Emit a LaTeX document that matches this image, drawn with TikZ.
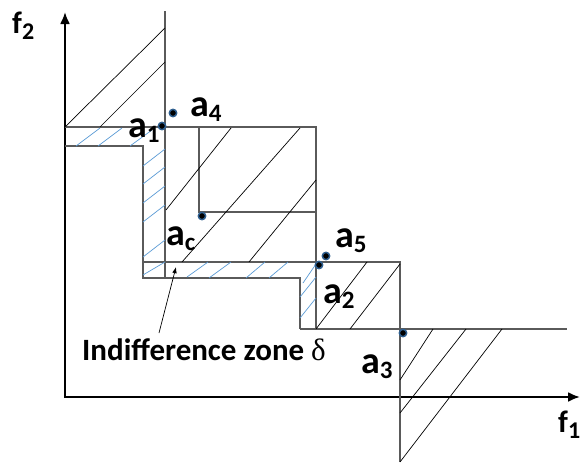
\documentclass[tikz,border=0pt]{standalone}
\usepackage{fontspec}
\setmainfont{Carlito}
\newfontfamily\deltafont{Liberation Serif}
\usetikzlibrary{arrows.meta}
\definecolor{mez}{HTML}{5A5A5A}
\definecolor{zona}{HTML}{5B9BD5}
\definecolor{krouzek}{HTML}{2F5F8F}
\newcommand{\varianta}[1]{a\raisebox{-5pt}{\fontsize{25}{25}\selectfont #1}}
\newcommand{\kriterium}[1]{f\raisebox{-6pt}{\fontsize{24}{24}\selectfont #1}}

\begin{document}
\begin{tikzpicture}[x=1pt, y=-1pt, >=Latex,
  osa/.style={line width=2.2pt, {Latex[length=12pt,width=10pt]}-{Latex[length=12pt,width=10pt]}},
  hranice/.style={mez, line width=1.1pt},
  srafa/.style={black, line width=0.7pt},
  srafazona/.style={zona, line width=0.7pt},
  bod/.style={circle, fill=black, draw=krouzek, line width=1.5pt, inner sep=2.6pt},
  popis/.style={anchor=base west, inner sep=0pt, font=\fontsize{38}{38}\selectfont\bfseries},
  osapopis/.style={anchor=base west, inner sep=0pt, font=\fontsize{31}{31}\selectfont\bfseries}]
  \useasboundingbox (0,0) rectangle (582,463);

  % Osy
  \draw[osa] (65,12) -- (65,397) -- (580,397);
  \node[osapopis] (f2) at (12,33) {\kriterium{2}};
  \node[osapopis] (f1) at (558,432) {\kriterium{1}};

  % Hranice dominance
  \draw[hranice] (65,127) -- (316,127) -- (316,329);
  \draw[hranice] (165,11) -- (165,278);
  \draw[hranice] (143,262) -- (400,262) -- (400,462);
  \draw[hranice] (300,329) -- (567,329);
  \draw[hranice] (199,127) -- (199,212) -- (316,212);

  % Mez indiference
  \draw[hranice] (65,146) -- (143,146) -- (143,278) -- (300,278) -- (300,329);

  % Srafovani
  \foreach \xa/\ya/\xb/\yb in {65/127/165/28, 100/127/165/62, 166/210/231/128,
      182/262/300/128, 249/262/316/180, 316/329/367/262, 350/329/400/264,
      400/380/433/329, 400/413/466/329, 400/462/502/329}
    \draw[srafa] (\xa,\ya) -- (\xb,\yb);
  \foreach \xa/\ya/\xb/\yb in {76/146/100/128, 98/146/122/128, 130/146/152/130,
      143/166/165/149, 143/184/165/167, 143/203/165/186, 143/222/165/205,
      143/257/165/240, 143/275/165/262,
      187/277/208/262, 209/278/231/262, 246/278/265/262, 269/278/288/262,
      303/283/316/264, 300/297/316/277, 300/318/316/298}
    \draw[srafazona] (\xa,\ya) -- (\xb,\yb);

  % Varianty
  \node[bod] (b1) at (162,126) {};
  \node[bod] (b4) at (173,113) {};
  \node[bod] (bc) at (202,216) {};
  \node[bod] (b2) at (319,265) {};
  \node[bod] (b5) at (326,256) {};
  \node[bod] (b3) at (403,333) {};
  \node[popis] (a1) at (128,137) {\varianta{1}};
  \node[popis] (a4) at (190,116) {\varianta{4}};
  \node[popis] (ac) at (166,245) {\varianta{c}};
  \node[popis] (a5) at (335,247) {\varianta{5}};
  \node[popis] (a2) at (323,303) {\varianta{2}};
  \node[popis] (a3) at (361,373) {\varianta{3}};

  % Popis zony
  \node[osapopis] (zona) at (82,360) {Indifference zone {\deltafont\mdseries δ}};
  \coordinate (ocas) at (159,333);
  \coordinate (hrot) at (176,267);
  \draw[->, line width=0.7pt] (ocas) -- (hrot);
\end{tikzpicture}
\end{document}
